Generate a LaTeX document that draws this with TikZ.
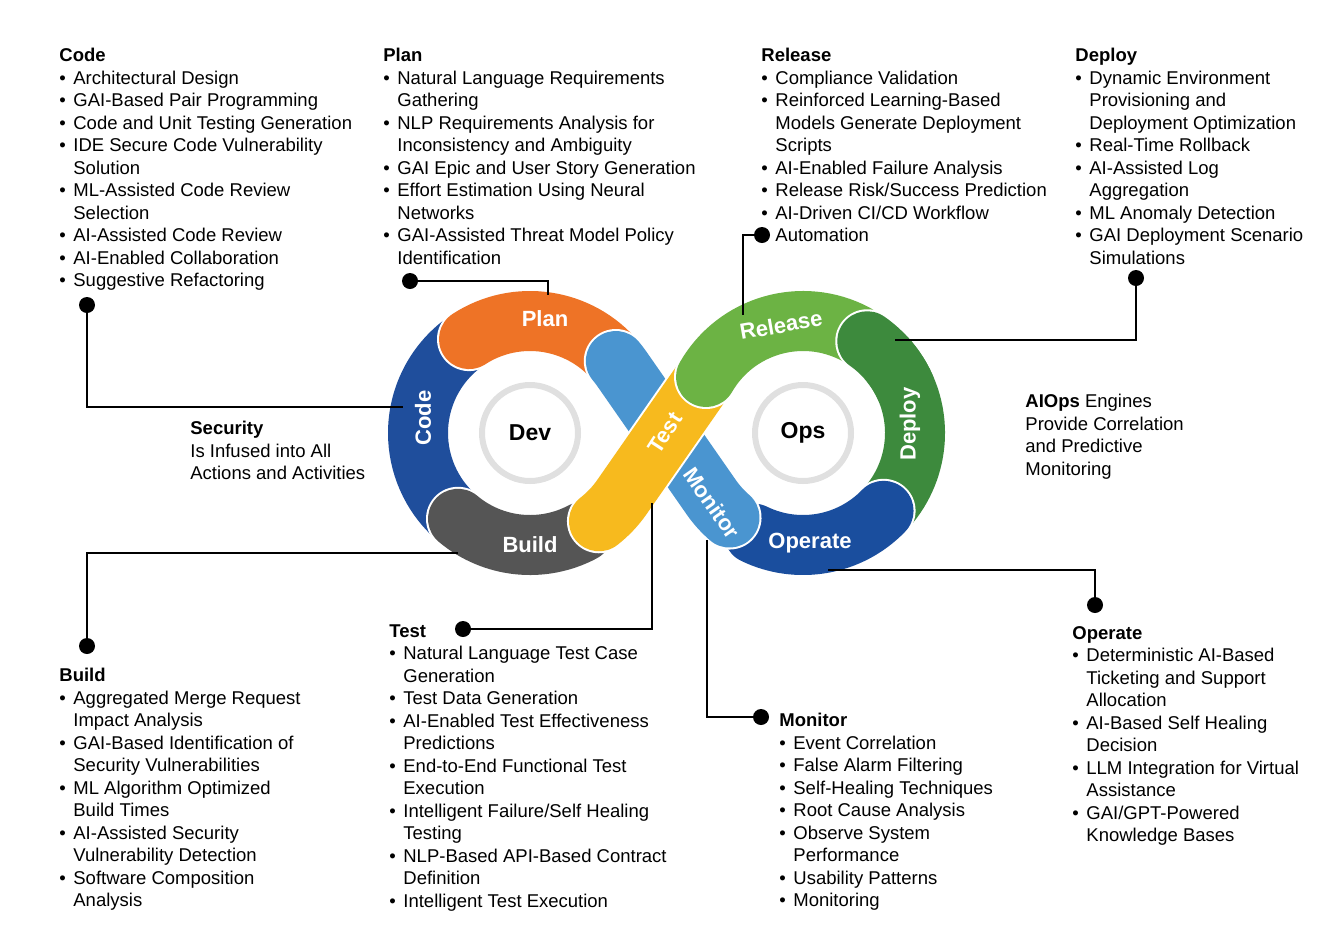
\documentclass[tikz,border=0pt]{standalone}
\usepackage{fontspec}
\setmainfont{Liberation Sans}
\usetikzlibrary{calc}
\newcommand\bu{\makebox[7pt][l]{\textbullet}}
\newcommand\cn{\hspace*{7pt}}
\definecolor{cplan}{HTML}{EE7326}
\definecolor{ccode}{HTML}{1F4E9C}
\definecolor{cbuild}{HTML}{555555}
\definecolor{cmon}{HTML}{4A95D0}
\definecolor{ctest}{HTML}{F7BA1E}
\definecolor{crel}{HTML}{6CB344}
\definecolor{cdep}{HTML}{3D8A3D}
\definecolor{cop}{HTML}{1A4E9E}
\tikzset{
  seg/.style={draw=#1, line width=30pt, line cap=round,
    preaction={draw=white, line width=32pt, line cap=round}},
  lbl/.style={text=white, font=\fontsize{11}{13}\selectfont\bfseries},
  blk/.style={anchor=north west, inner sep=0pt, align=left,
    font=\fontsize{9.25}{11.25}\selectfont},
  lead/.style={line width=1pt},
  dot/.style={circle, fill=black, inner sep=0pt, minimum size=8pt},
  hub/.style={circle, fill=white, draw=black!12, line width=3pt,
    minimum size=48pt, font=\fontsize{11.5}{13}\selectfont\bfseries}
}
\begin{document}
\begin{tikzpicture}[x=0.5pt, y=-0.5pt]
	\useasboundingbox (0,0) rectangle (1342,938);
	\coordinate (devc) at (530,433);
	\coordinate (opsc) at (803,433);
	% loop
	\draw[seg=ccode]  ($(devc)+(-123:112)$) arc[start angle=-123, end angle=-230, radius=112];
	\draw[seg=cplan]  ($(devc)+(-123:112)$) arc[start angle=-123, end angle=-40, radius=112];
	\draw[seg=cbuild] ($(devc)+(130:112)$) arc[start angle=130, end angle=62, radius=112];
	\draw[seg=cdep]   ($(opsc)+(-55:112)$) arc[start angle=-55, end angle=44, radius=112];
	\draw[seg=cop]    ($(opsc)+(44:112)$) arc[start angle=44, end angle=116, radius=112];
	\draw[seg=cmon]   ($(devc)+(-40:112)$) arc[start angle=-40, end angle=-35, radius=112]
	                  -- ($(opsc)+(145:112)$) arc[start angle=145, end angle=131, radius=112];
	\draw[seg=ctest]  ($(devc)+(52:112)$) arc[start angle=52, end angle=35, radius=112]
	                  -- ($(opsc)+(-145:112)$) arc[start angle=-145, end angle=-150, radius=112];
	\draw[seg=crel]   ($(opsc)+(-150:112)$) arc[start angle=-150, end angle=-62, radius=112];
	\draw[draw=white, line width=32pt, line cap=round] ($(opsc)+(-55:112)$) arc[start angle=-55, end angle=-48, radius=112];
	\draw[draw=cdep, line width=30pt, line cap=round] ($(opsc)+(-55:112)$) arc[start angle=-55, end angle=-25, radius=112];
	% labels on the loop
	\node[lbl] (lplan) at (545,319) {Plan};
	\node[lbl, rotate=90] (lcode) at (423,418) {Code};
	\node[lbl] (lbuild) at (530,545) {Build};
	\node[lbl, rotate=57] (ltest) at (665,433) {Test};
	\node[lbl, rotate=-55] (lmon) at (712,503) {Monitor};
	\node[lbl, rotate=10] (lrel) at (781,325) {Release};
	\node[lbl, rotate=90] (ldep) at (910,424) {Deploy};
	\node[lbl] (lop) at (810,543) {Operate};
	\node[hub] (dev) at (devc) {Dev};
	\node[hub] (ops) at (opsc) {Ops};
	% leaders
	\node[dot] (dcode) at (87,305) {};
	\node[dot] (dplan) at (410,281) {};
	\node[dot] (drel) at (762,235) {};
	\node[dot] (ddep) at (1136,278) {};
	\node[dot] (dbuild) at (87,646) {};
	\node[dot] (dtest) at (463,629) {};
	\node[dot] (dmon) at (761,717) {};
	\node[dot] (dop) at (1095,605) {};
	\coordinate (tcode) at (403,407);
	\coordinate (tplan) at (548,295);
	\coordinate (trel) at (743,315);
	\coordinate (tdep) at (895,340);
	\coordinate (tbuild) at (458,553);
	\coordinate (ttest) at (652,503);
	\coordinate (tmon) at (707,540);
	\coordinate (top) at (828,570);
	\draw[lead] (dcode) |- (tcode);
	\draw[lead] (dplan) -| (tplan);
	\draw[lead] (drel) -| (trel);
	\draw[lead] (ddep) |- (tdep);
	\draw[lead] (dbuild) |- (tbuild);
	\draw[lead] (dtest) -| (ttest);
	\draw[lead] (dmon) -| (tmon);
	\draw[lead] (dop) |- (top);
	% text blocks
	\node[blk] (bcode) at (59,48) {\textbf{Code}\\
		\bu Architectural Design\\
		\bu GAI-Based Pair Programming\\
		\bu Code and Unit Testing Generation\\
		\bu IDE Secure Code Vulnerability\\
		\cn Solution\\
		\bu ML-Assisted Code Review\\
		\cn Selection\\
		\bu AI-Assisted Code Review\\
		\bu AI-Enabled Collaboration\\
		\bu Suggestive Refactoring};
	\node[blk] (bplan) at (383,48) {\textbf{Plan}\\
		\bu Natural Language Requirements\\
		\cn Gathering\\
		\bu NLP Requirements Analysis for\\
		\cn Inconsistency and Ambiguity\\
		\bu GAI Epic and User Story Generation\\
		\bu Effort Estimation Using Neural\\
		\cn Networks\\
		\bu GAI-Assisted Threat Model Policy\\
		\cn Identification};
	\node[blk] (brel) at (761,48) {\textbf{Release}\\
		\bu Compliance Validation\\
		\bu Reinforced Learning-Based\\
		\cn Models Generate Deployment\\
		\cn Scripts\\
		\bu AI-Enabled Failure Analysis\\
		\bu Release Risk/Success Prediction\\
		\bu AI-Driven CI/CD Workflow\\
		\cn Automation};
	\node[blk] (bdep) at (1075,48) {\textbf{Deploy}\\
		\bu Dynamic Environment\\
		\cn Provisioning and\\
		\cn Deployment Optimization\\
		\bu Real-Time Rollback\\
		\bu AI-Assisted Log\\
		\cn Aggregation\\
		\bu ML Anomaly Detection\\
		\bu GAI Deployment Scenario\\
		\cn Simulations};
	\node[blk] (bsec) at (190,421) {\textbf{Security}\\
		Is Infused into All\\
		Actions and Activities};
	\node[blk] (baiops) at (1025,394) {\textbf{AIOps} Engines\\
		Provide Correlation\\
		and Predictive\\
		Monitoring};
	\node[blk] (bbuild) at (59,668) {\textbf{Build}\\
		\bu Aggregated Merge Request\\
		\cn Impact Analysis\\
		\bu GAI-Based Identification of\\
		\cn Security Vulnerabilities\\
		\bu ML Algorithm Optimized\\
		\cn Build Times\\
		\bu AI-Assisted Security\\
		\cn Vulnerability Detection\\
		\bu Software Composition\\
		\cn Analysis};
	\node[blk] (btest) at (389,624) {\textbf{Test}\\
		\bu Natural Language Test Case\\
		\cn Generation\\
		\bu Test Data Generation\\
		\bu AI-Enabled Test Effectiveness\\
		\cn Predictions\\
		\bu End-to-End Functional Test\\
		\cn Execution\\
		\bu Intelligent Failure/Self Healing\\
		\cn Testing\\
		\bu NLP-Based API-Based Contract\\
		\cn Definition\\
		\bu Intelligent Test Execution};
	\node[blk] (bmon) at (779,713) {\textbf{Monitor}\\
		\bu Event Correlation\\
		\bu False Alarm Filtering\\
		\bu Self-Healing Techniques\\
		\bu Root Cause Analysis\\
		\bu Observe System\\
		\cn Performance\\
		\bu Usability Patterns\\
		\bu Monitoring};
	\node[blk] (bop) at (1072,626) {\textbf{Operate}\\
		\bu Deterministic AI-Based\\
		\cn Ticketing and Support\\
		\cn Allocation\\
		\bu AI-Based Self Healing\\
		\cn Decision\\
		\bu LLM Integration for Virtual\\
		\cn Assistance\\
		\bu GAI/GPT-Powered\\
		\cn Knowledge Bases};
\end{tikzpicture}
\end{document}
